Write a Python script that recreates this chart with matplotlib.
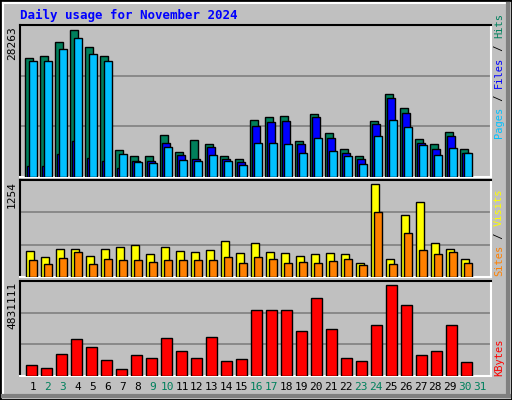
import matplotlib
matplotlib.use("Agg")
import matplotlib.pyplot as plt
from matplotlib.patches import Rectangle
from matplotlib.lines import Line2D

days = list(range(1, 31))
day_labels = [str(i) for i in range(1, 32)]
weekend = {2, 3, 9, 10, 16, 17, 23, 24, 30, 31}

hits = [22891, 23274, 25960, 28263, 25001, 23274, 5243, 3964, 3964, 8120, 4859, 7161, 6394, 4092, 3517,
        10998, 11573, 11765, 6970, 12149, 8504, 5435, 3964, 10806, 15985, 13300, 7353, 6394, 8696, 5435]
files = [2046, 2046, 4476, 6970, 3709, 3133, 1790, 3133, 3133, 6586, 4284, 3517, 5819, 3517, 2941,
         9847, 10614, 10806, 6394, 11573, 7545, 4668, 3517, 10230, 15218, 12340, 6586, 5435, 7929, 4668]
pages = [22315, 22315, 24617, 26727, 23658, 22315, 4476, 2941, 2749, 5819, 3325, 3133, 4284, 3133, 2366,
         6586, 6586, 6394, 4668, 7545, 5051, 4092, 2558, 7929, 10998, 9655, 6202, 4284, 5627, 4668]
visits = [358, 276, 385, 385, 290, 385, 412, 439, 317, 412, 358, 344, 371, 493, 330,
          466, 344, 330, 290, 317, 330, 317, 195, 1254, 249, 833, 1010, 466, 385, 249]
sites = [235, 181, 263, 344, 181, 249, 235, 235, 208, 235, 235, 235, 235, 276, 195,
         276, 249, 195, 208, 195, 222, 249, 167, 874, 181, 602, 371, 317, 344, 195]
kbytes = [599000, 441000, 1181000, 1975000, 1552000, 864000, 388000, 1128000, 970000, 2028000,
          1340000, 970000, 2081000, 811000, 917000, 3509000, 3509000, 3509000, 2398000, 4144000,
          2504000, 970000, 811000, 2715000, 4831111, 3773000, 1128000, 1340000, 2715000, 758000]

C_HITS, C_FILES, C_PAGES = "#00805C", "#0000FF", "#00C0FF"
C_VIS, C_SITES, C_KB = "#FFFF00", "#FF8000", "#FF0000"
BG = "#C0C0C0"
W, H = 512, 400
mono = "DejaVu Sans Mono"

fig = plt.figure(figsize=(5.12, 4.0), dpi=100, facecolor=BG)

def ax_at(top, bottom):
    return fig.add_axes([20 / W, 1 - bottom / H, 471 / W, (bottom - top) / H])

def style(ax, ymax, ratio):
    ax.set_facecolor(BG)
    ax.set_xlim(0, 471)
    ax.set_ylim(0, ymax * ratio)
    top = ymax * ratio
    for f in (1 / 3, 2 / 3):
        ax.axhline(top * f, color="#808080", lw=1.2, zorder=0)
    ax.set_xticks([]); ax.set_yticks([])
    for s in ("top", "left"):
        ax.spines[s].set_color("black")
    for s in ("bottom", "right"):
        ax.spines[s].set_color("white")
    for s in ax.spines.values():
        s.set_linewidth(1.5)

def xs(off):
    return [5 + 15 * (d - 1) + off for d in days]

ek = dict(edgecolor="black", linewidth=1.0, align="edge", zorder=3)

ax1 = ax_at(25, 177)
style(ax1, max(hits), 152 / 147.3)
ax1.bar(xs(0), hits, width=7.5, color=C_HITS, **ek)
ax1.bar(xs(2), files, width=7.5, color=C_FILES, **ek)
ax1.bar(xs(4.3), pages, width=7.4, color=C_PAGES, **ek)

ax2 = ax_at(180, 277)
style(ax2, max(visits), 96.7 / 92.3)
ax2.bar(xs(1), visits, width=7.5, color=C_VIS, **ek)
ax2.bar(xs(4.3), sites, width=7.4, color=C_SITES, **ek)

ax3 = ax_at(281, 376)
style(ax3, max(kbytes), 95 / 91.3)
ax3.bar(xs(1), kbytes, width=10.7, color=C_KB, **ek)

# Day labels
for i, lab in enumerate(day_labels):
    x = (33 + i * 14.9) / W
    fig.text(x, 1 - 387 / H, lab, ha="center", va="center", family=mono, fontsize=8,
             color="#00805C" if (i + 1) in weekend else "black")

# Left max labels
for y, lab in ((26, str(max(hits))), (181, str(max(visits))), (282, str(max(kbytes)))):
    fig.text(12 / W, 1 - y / H, lab, rotation=90, ha="center", va="top", family=mono, fontsize=8)

# Title
fig.text(20 / W, 1 - 15 / H, "Daily usage for November 2024", ha="left", va="center",
         family=mono, fontsize=9, fontweight="bold", color="#0000FF")

# Right legends
def rtext(parts, ybottom):
    y = ybottom
    for txt, col in parts:
        fig.text(499 / W, 1 - y / H, txt, rotation=90, ha="center", va="bottom",
                 family=mono, fontsize=7.5, color=col)
        y -= len(txt) * 6.25

rtext([("Pages", C_PAGES), (" / ", "black"), ("Files", C_FILES), (" / ", "black"), ("Hits", C_HITS)], 138)
rtext([("Sites", C_SITES), (" / ", "black"), ("Visits", C_VIS)], 276)
rtext([("KBytes", C_KB)], 376)

# Outer frame
fig.add_artist(Rectangle((0, 0), 1, 1, transform=fig.transFigure, fill=False, edgecolor="black", lw=2))
fig.add_artist(Line2D([3 / W, 3 / W], [3 / H, 1 - 3 / H], transform=fig.transFigure, color="white", lw=1.5))
fig.add_artist(Line2D([3 / W, 1 - 3 / W], [1 - 3 / H, 1 - 3 / H], transform=fig.transFigure, color="white", lw=1.5))
fig.add_artist(Line2D([1 - 4.5 / W, 1 - 4.5 / W], [4 / H, 1 - 4 / H], transform=fig.transFigure, color="#808080", lw=3))
fig.add_artist(Line2D([3 / W, 1 - 3 / W], [4.5 / H, 4.5 / H], transform=fig.transFigure, color="#808080", lw=3))

fig.savefig("out.png", dpi=100, facecolor=BG)
